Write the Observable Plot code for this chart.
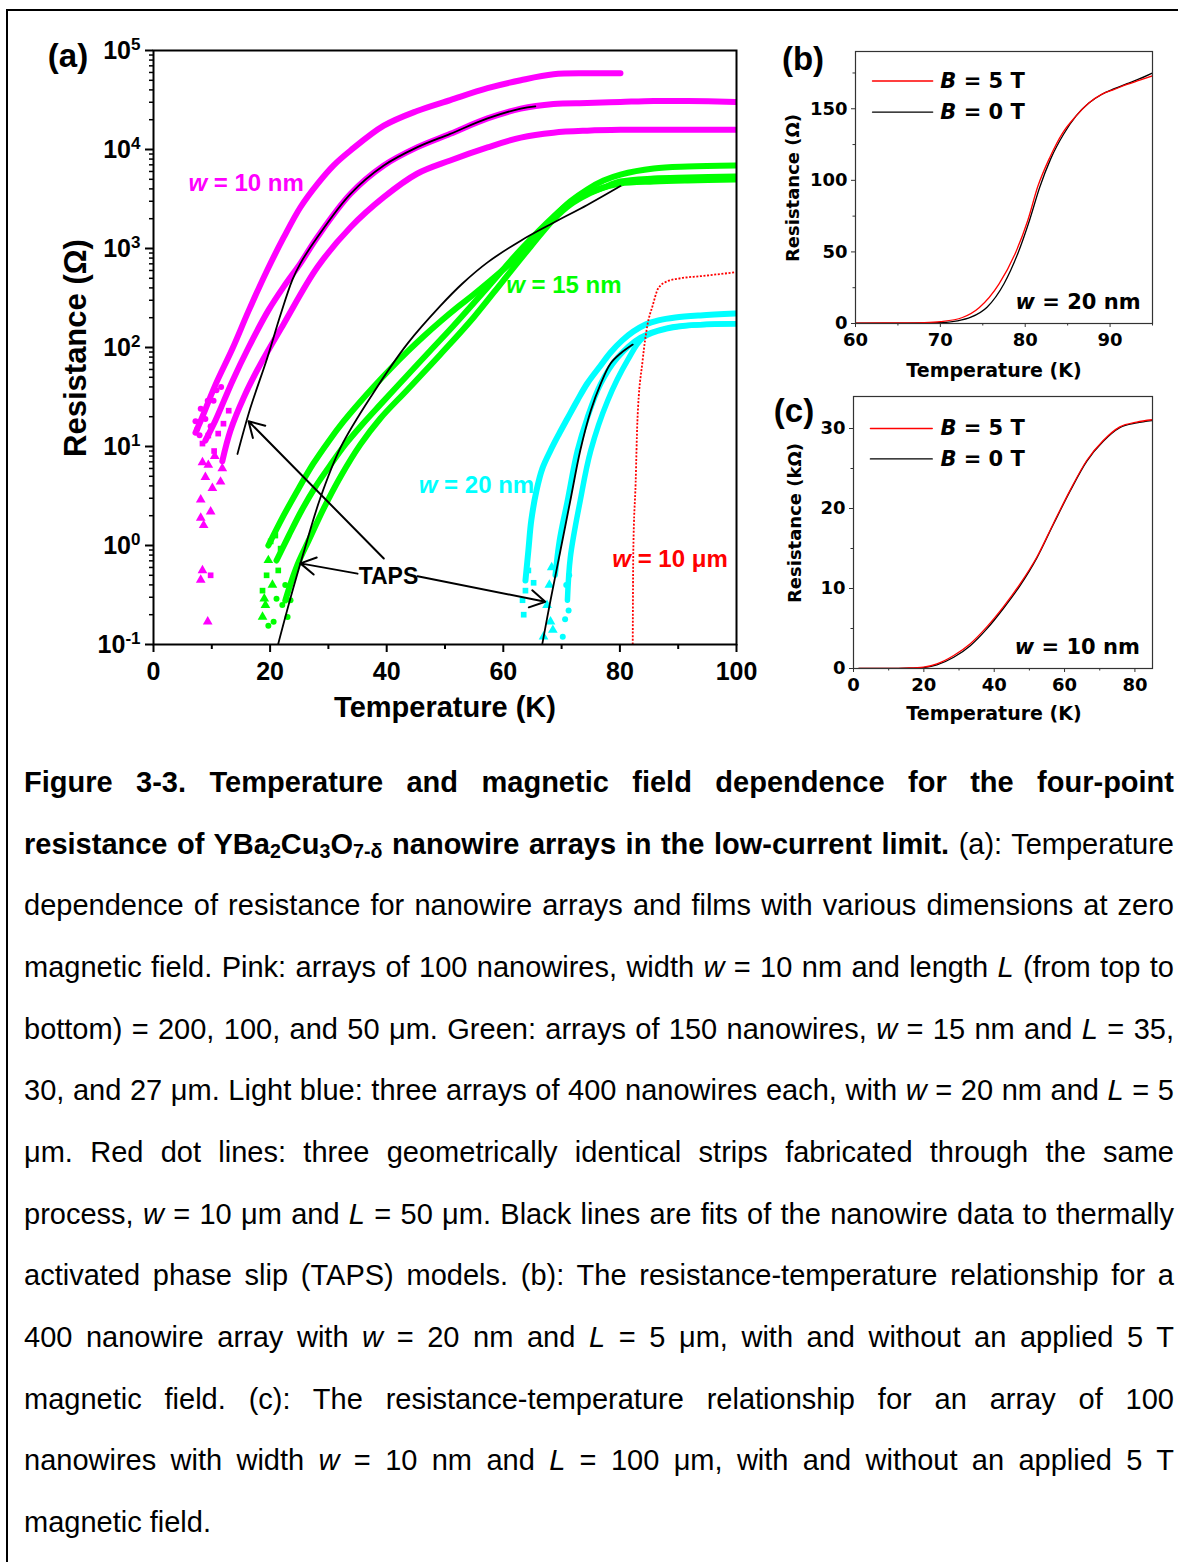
<!DOCTYPE html>
<html><head><meta charset="utf-8">
<script src="https://cdn.jsdelivr.net/npm/d3@7"></script>
<script src="https://cdn.jsdelivr.net/npm/@observablehq/plot@0.6"></script>
<style>
html,body{margin:0;padding:0;background:#fff;width:1178px;height:1562px;overflow:hidden;}
#page{position:relative;width:1178px;height:1562px;overflow:hidden;}
#border{position:absolute;left:6px;top:9px;width:1300px;height:1700px;border:2px solid #000;box-sizing:border-box;}
.panel{position:absolute;}
.lbl{position:absolute;white-space:nowrap;line-height:1;transform:translate(-50%,-50%);color:#000;font-weight:bold;}
.rot{transform:translate(-50%,-50%) rotate(-90deg);}
.fa{font-family:"Liberation Sans",Arial,sans-serif;}
.fb{font-family:"DejaVu Sans",Verdana,sans-serif;}
.cl{position:absolute;left:24px;height:61.67px;line-height:61.67px;white-space:nowrap;font-family:"Liberation Sans",Arial,sans-serif;font-size:29px;color:#000;}
.cl span{white-space:nowrap;}
.cl sub{font-size:0.68em;vertical-align:-0.22em;line-height:0;}
</style></head>
<body><div id="page">
<div id="border"></div>
<div id="pa" class="panel" style="left:0;top:0"></div>
<div id="pb" class="panel" style="left:770px;top:20px"></div>
<div id="pc" class="panel" style="left:770px;top:380px"></div>
<div class="lbl fa" style="left:68px;top:55px;font-size:33px">(a)</div>
<div class="lbl fa" style="left:803px;top:58px;font-size:33px">(b)</div>
<div class="lbl fa" style="left:794px;top:410px;font-size:33px">(c)</div>
<div class="lbl fa" style="left:445px;top:707px;font-size:29px">Temperature (K)</div>
<div class="lbl fa rot" style="left:75px;top:348px;font-size:31px">Resistance (Ω)</div>
<div class="lbl fb" style="left:994px;top:370px;font-size:19px">Temperature (K)</div>
<div class="lbl fb rot" style="left:793px;top:188px;font-size:18px">Resistance (Ω)</div>
<div class="lbl fb" style="left:994px;top:713px;font-size:19px">Temperature (K)</div>
<div class="lbl fb rot" style="left:795px;top:523px;font-size:18px">Resistance (kΩ)</div>
<div id="caption"></div>
</div>
<script>
// ---------- Panel (a) data: [Temperature (K), Resistance (Ω)] ----------
const pink200 = [[7.2,13.8],[8.1,18.2],[10.6,41.7],[13.55,97.7],[16.35,237],[19.5,603],[22.35,1300],[25.2,2610],[28.1,4470],[30.9,6920],[33.8,9770],[39.5,17400],[45.2,24500],[50.9,31600],[57.3,41700],[63.0,50100],[68.6,57500],[74.4,58900],[80.1,58900]];
const pink100 = [[8.9,11.5],[10.6,18.2],[13.55,46],[16.3,100],[19.7,237],[22.6,433],[25.2,708],[28.1,1300],[33.8,3570],[39.5,6890],[45.2,10500],[50.9,14400],[57.3,20600],[63.0,25900],[68.6,28800],[74.4,29500],[80.1,30200],[85.8,30900],[91.6,30900],[99.8,30200]];
const pink50 = [[11.8,7.1],[13.2,14.5],[15.5,31.5],[18.35,68],[22.35,174],[28.1,646],[33.8,1640],[39.5,3300],[45.2,5690],[50.9,7750],[57.3,10500],[63.0,13200],[68.6,14800],[74.4,15500],[80.1,15800],[99.8,15800]];
const pinkTri = [[8.4,6.9],[8.1,2.9],[8.1,1.9],[9.8,2.2],[8.4,0.56],[8.1,0.45],[9.3,0.17],[8.6,1.6],[10.1,3.8],[11.5,4.4],[8.9,4.9],[9.4,6.5],[10.5,8],[11.8,6]];
const pinkSq = [[9.8,0.5],[8.4,10.7],[9.4,12.9],[11.1,13.5],[12.9,23],[10.4,9],[12.0,17]];
const pinkCirc = [[7.2,18],[7.5,15],[8.1,24],[8.9,19],[9.8,16],[10.3,29],[10.8,37],[9.3,29],[7.9,13],[11.6,40]];
const fitPink = [[14.4,8.4],[16.6,24.3],[19.5,78],[21.8,215],[23.8,479],[25.2,708],[28.1,1300],[33.8,3570],[39.5,6890],[45.2,10500],[50.9,14400],[57.3,20600],[63.0,25900],[65.5,27200]];

const green35 = [[19.7,1.0],[22.3,2.0],[24.9,3.77],[27.4,6.7],[30.0,11.2],[32.6,17.9],[35.2,27.2],[37.8,40.4],[40.7,61.4],[43.6,91.2],[46.3,129],[49.2,183],[52.1,254],[54.9,343],[57.8,475],[60.4,643],[63.0,889],[65.9,1350],[68.6,2060],[71.5,2990],[74.4,3950],[77.2,4860],[80.1,5580],[85.8,6430],[91.6,6730],[99.8,6880]];
const green30 = [[21.1,0.705],[23.2,1.26],[25.4,2.26],[27.8,3.94],[30.4,6.58],[32.9,10.5],[35.8,16.7],[38.9,26.5],[43.2,49.8],[47.5,93.3],[51.5,167],[57.3,404],[63.0,977],[68.6,2100],[71.5,2920],[74.4,3600],[77.2,4130],[80.1,4540],[85.8,4750],[91.6,4870],[99.8,4980]];
const green27 = [[22.6,0.278],[23.7,0.443],[25.0,0.705],[26.6,1.12],[29.2,2.37],[32.1,4.98],[35.5,10.5],[38.9,19.2],[43.6,37.7],[49.2,85],[54.9,201],[60.0,475],[64.7,1047],[68.6,1960],[71.5,2780],[74.4,3510],[77.2,4130],[80.1,4750],[85.8,5090],[91.6,5210],[99.8,5330]];
const greenTri = [[18.7,0.19],[19.2,0.25],[20.4,0.4],[19.0,0.29],[19.7,0.71]];
const greenSq = [[20.1,1.1],[20.9,1.26],[21.8,0.93],[19.4,0.5],[21.4,0.56],[18.7,0.35]];
const greenCirc = [[19.7,0.155],[20.6,0.17],[23.0,0.19],[22.1,0.25],[22.6,0.4],[23.5,0.28],[21.1,0.29]];
const fitGreen = [[21.4,0.102],[23.5,0.295],[25.7,0.83],[28.6,3.0],[32.1,9.8],[37.7,34.7],[43.6,110],[49.2,263],[53.0,443],[57.3,724],[63.0,1200],[68.6,1820],[74.4,2750],[80.1,4270]];

const cyanA = [[63.8,0.443],[64.3,0.89],[64.8,1.79],[65.7,3.6],[66.7,6.0],[68.1,9.12],[69.5,13.2],[71.0,19.2],[72.7,29.2],[74.4,43.3],[76.7,65.8],[78.4,89.1],[80.4,118],[82.3,145],[84.4,171],[86.6,188],[89.5,201],[93.8,211],[99.8,220]];
const cyanB = [[68.9,0.5],[69.6,1.1],[71.0,2.85],[72.7,9.1],[74.4,19.5],[76.7,43],[79.6,79],[83.5,126],[88.2,158],[93.8,170],[99.8,174]];
const cyanC = [[71.0,0.28],[71.5,0.76],[73.2,2.85],[75.0,9.1],[77.9,29],[81.3,74],[84.0,126],[88.2,155],[93.8,170],[99.8,174]];
const cyanSq = [[63.3,0.28],[63.5,0.2],[64.3,0.56],[63.8,0.35],[65.2,0.42]];
const cyanTri = [[66.9,0.12],[68.1,0.17],[67.5,0.25],[68.5,0.14],[67.9,0.4],[68.3,0.6]];
const cyanCirc = [[70.2,0.12],[70.6,0.18],[71.2,0.22],[70.8,0.4],[71.3,0.5]];
const fitCyan = [[66.7,0.102],[68.1,0.28],[69.8,0.89],[71.5,2.85],[73.2,9.1],[75.0,23],[76.7,43],[78.4,69],[80.1,87],[82.2,107]];

const red10um = [[82.2,0.10],[82.3,0.89],[82.7,4.3],[83.0,18],[83.9,74],[84.7,166],[85.6,263],[86.6,398],[88.2,468],[90.4,501],[93.8,525],[99.8,575]];

const xTicksA = [0,20,40,60,80,100];
const xMinorA = [10,30,50,70,90];
const yTicksA = [0.1,1,10,100,1000,10000,100000];
const labelsA = [["w = 10 nm",6.0,4570,"#ff00ff"],["w = 15 nm",60.5,427,"#00ff00"],["w = 20 nm",45.5,4.1,"#00ffff"],["w = 10 μm",78.7,0.72,"#ff0000"]];
const tapsLabel = [["TAPS",40.3,0.49]];
const tapsArrows = [[39.5,0.74,16.3,18],[35.0,0.52,25.2,0.66],[45.3,0.49,67.2,0.27]];

// ---------- Panel (b) data: [T (K), R (Ω)] ----------
const b0T = [[60,0.3],[66,0.3],[70,0.6],[72,1.8],[73.6,4.4],[75.5,11.4],[77.5,27.8],[79.2,50],[80.5,72],[81.7,95],[83,115],[84.5,132],[86,145],[87.5,154],[89,160],[90.5,164],[92,167.5],[93.5,171],[95,175]];
const b5T = [[60,0.3],[66,0.4],[68,0.6],[70,1.3],[72.6,4.2],[74.6,11.2],[76.9,27.5],[78.9,50],[80.3,72],[81.5,96],[82.9,116],[84.4,133],[86,145],[87.5,154],[89,160],[90.5,163.5],[92,167],[93.5,170],[95,173]];
const xTicksB = [60,70,80,90], xMinorB = [65,75,85,95];
const yTicksB = [0,50,100,150], yMinorB = [25,75,125,175];
const legendB = [["B = 5 T","#ff0000",169.4],["B = 0 T","#000000",147.7]];
const legendBx = [62,69.1,70];
const noteB = [["w = 20 nm",93.6,14.7]];

// ---------- Panel (c) data: [T (K), R (kΩ)] ----------
const c0T = [[1.5,0],[10,0.01],[15,0.04],[19.9,0.12],[23.7,0.45],[28.5,1.4],[33.2,2.85],[37.9,4.95],[42.6,7.5],[47.4,10.4],[52.1,13.8],[56.8,18.0],[61.6,22.2],[66.3,25.9],[71.0,28.4],[75.7,30.1],[80.5,30.7],[85,31.0]];
const c5T = [[1.5,0],[10,0.01],[15,0.05],[19.9,0.17],[23.7,0.58],[28.5,1.63],[33.2,3.1],[37.9,5.2],[42.6,7.7],[47.4,10.6],[52.1,13.9],[56.8,18.1],[61.6,22.3],[66.3,26.0],[71.0,28.5],[75.7,30.2],[80.5,30.8],[85,31.1]];
const xTicksC = [0,20,40,60,80], xMinorC = [10,30,50,70];
const yTicksC = [0,10,20,30], yMinorC = [5,15,25];
const legendC = [["B = 5 T","#ff0000",30.0],["B = 0 T","#000000",26.2]];
const legendCx = [4.8,22.4,24.7];
const noteC = [["w = 10 nm",81.4,2.63]];

const X = d => d[0], Y = d => d[1];
const yMinorA = [];
for (const t of yTicksA.slice(0,-1)) for (let m = 2; m <= 9; m++) yMinorA.push(m * t);

function curve(data, color, w, extra = {}) {
  return Plot.line(data, {x: X, y: Y, stroke: color, strokeWidth: w, curve: "catmull-rom", clip: true, ...extra});
}
function dots(data, color, symbol, r) {
  return Plot.dot(data, {x: X, y: Y, fill: color, symbol, r, clip: true});
}

const fontA = '"Liberation Sans", Arial, sans-serif';
const fontB = '"DejaVu Sans", Verdana, sans-serif';

const pa = Plot.plot({
  width: 770, height: 730, marginLeft: 153, marginRight: 34, marginTop: 50, marginBottom: 86,
  x: {domain: [0, 100]},
  y: {type: "log", domain: [0.1, 1e5]},
  style: {fontFamily: fontA, fontWeight: "bold", fontSize: "25px", color: "#000", background: "transparent", overflow: "visible"},
  marks: [
    curve(pink200, "#ff00ff", 6), curve(pink100, "#ff00ff", 6), curve(pink50, "#ff00ff", 6),
    dots(pinkTri, "#ff00ff", "triangle", 3.6), dots(pinkSq, "#ff00ff", "square", 3.2), dots(pinkCirc, "#ff00ff", "circle", 3),
    curve(green35, "#00ff00", 6), curve(green30, "#00ff00", 6), curve(green27, "#00ff00", 6),
    dots(greenTri, "#00ff00", "triangle", 3.6), dots(greenSq, "#00ff00", "square", 3.2), dots(greenCirc, "#00ff00", "circle", 3),
    curve(cyanA, "#00ffff", 6), curve(cyanB, "#00ffff", 5.5), curve(cyanC, "#00ffff", 5.5),
    dots(cyanSq, "#00ffff", "square", 3.2), dots(cyanTri, "#00ffff", "triangle", 3.6), dots(cyanCirc, "#00ffff", "circle", 3),
    curve(red10um, "#ff0000", 1.8, {strokeDasharray: "2,1.6", strokeLinecap: "butt", curve: "monotone-x"}),
    curve(fitPink, "#000", 1.8), curve(fitGreen, "#000", 1.8), curve(fitCyan, "#000", 1.8),
    Plot.arrow(tapsArrows, {x1: d => d[0], y1: d => d[1], x2: d => d[2], y2: d => d[3], stroke: "#000", strokeWidth: 2, headLength: 13}),
    Plot.text(tapsLabel, {x: d => d[1], y: d => d[2], text: d => d[0], fontSize: 23, fill: "#000"}),
    ...labelsA.map(l => Plot.text([l], {x: d => d[1], y: d => d[2], text: d => d[0], fill: l[3], fontSize: 24, textAnchor: "start"})),
    Plot.axisX({ticks: xTicksA, tickSize: 8, tickPadding: 10, tickFormat: d => String(d), label: null, strokeWidth: 2}),
    Plot.axisX({ticks: xMinorA, tickSize: 5, tickFormat: () => "", label: null, strokeWidth: 2}),
    Plot.axisY({ticks: yTicksA, tickSize: 8, tickPadding: 5, tickFormat: d => "10^" + Math.round(Math.log10(d)), label: null, strokeWidth: 2}),
    Plot.axisY({ticks: yMinorA, tickSize: 4, tickFormat: () => "", label: null, strokeWidth: 1.5}),
    Plot.frame({stroke: "#000", strokeWidth: 2})
  ]
});
document.getElementById("pa").appendChild(pa);

function sidePanel(opts) {
  const {w, h, ml, mr, mt, mb, xd, yd, xt, xm, yt, ym, series, legend, legX, note} = opts;
  return Plot.plot({
    width: w, height: h, marginLeft: ml, marginRight: mr, marginTop: mt, marginBottom: mb,
    x: {domain: xd}, y: {domain: yd},
    style: {fontFamily: fontB, fontWeight: "bold", fontSize: "18px", color: "#000", background: "transparent", overflow: "visible"},
    marks: [
      ...series.map(([d, c]) => Plot.line(d, {x: X, y: Y, stroke: c, strokeWidth: 1.3, curve: "monotone-x", clip: true})),
      ...legend.map(l => Plot.line([[legX[0], l[2]], [legX[1], l[2]]], {x: X, y: Y, stroke: l[1], strokeWidth: 1.3})),
      Plot.text(legend, {x: () => legX[2], y: d => d[2], text: d => d[0], textAnchor: "start", fontSize: 21, fill: "#000"}),
      Plot.text(note, {x: d => d[1], y: d => d[2], text: d => d[0], textAnchor: "end", fontSize: 21, fill: "#000"}),
      Plot.axisX({ticks: xt, tickSize: 4, tickPadding: 6, tickFormat: d => String(d), label: null, stroke: "#333"}),
      Plot.axisX({ticks: xm, tickSize: 2.5, tickFormat: () => "", label: null, stroke: "#333"}),
      Plot.axisY({ticks: yt, tickSize: 4, tickPadding: 4, tickFormat: d => String(d), label: null, stroke: "#333"}),
      Plot.axisY({ticks: ym, tickSize: 2.5, tickFormat: () => "", label: null, stroke: "#333"}),
      Plot.frame({stroke: "#333", strokeWidth: 1.2})
    ]
  });
}

const pb = sidePanel({w: 408, h: 370, ml: 85, mr: 26, mt: 31, mb: 67, xd: [60, 95], yd: [0, 190],
  xt: xTicksB, xm: xMinorB, yt: yTicksB, ym: yMinorB, series: [[b0T, "#000"], [b5T, "#ff0000"]],
  legend: legendB, legX: legendBx, note: noteB});
document.getElementById("pb").appendChild(pb);

const pc = sidePanel({w: 408, h: 350, ml: 83, mr: 26, mt: 16, mb: 62, xd: [0, 85], yd: [0, 34],
  xt: xTicksC, xm: xMinorC, yt: yTicksC, ym: yMinorC, series: [[c0T, "#000"], [c5T, "#ff0000"]],
  legend: legendC, legX: legendCx, note: noteC});
document.getElementById("pc").appendChild(pc);

// post-process: superscript exponents and italic variable letters
for (const svg of [pa, pb, pc]) {
  d3.select(svg).selectAll("text").each(function () {
    const t = this.textContent;
    const s = d3.select(this);
    let m = t.match(/^10\^(-?\d+)$/);
    if (m) {
      s.text("");
      s.append("tspan").text("10");
      s.append("tspan").attr("dy", "-0.5em").attr("font-size", "17px").text(m[1]);
      return;
    }
    m = t.match(/^([wB])( = .*)$/);
    if (m) {
      s.text("");
      s.append("tspan").attr("font-style", "italic").text(m[1]);
      s.append("tspan").text(m[2]);
    }
  });
}

// ---------- caption ----------
const captionLines = [
  '<b>Figure 3-3. Temperature and magnetic field dependence for the four-point</b>',
  '<b>resistance of YBa<sub>2</sub>Cu<sub>3</sub>O<sub>7-δ</sub> nanowire arrays in the low-current limit.</b> (a): Temperature',
  'dependence of resistance for nanowire arrays and films with various dimensions at zero',
  'magnetic field. Pink: arrays of 100 nanowires, width <i>w</i> = 10 nm and length <i>L</i> (from top to',
  'bottom) = 200, 100, and 50 μm. Green: arrays of 150 nanowires, <i>w</i> = 15 nm and <i>L</i> = 35,',
  '30, and 27 μm. Light blue: three arrays of 400 nanowires each, with <i>w</i> = 20 nm and <i>L</i> = 5',
  'μm. Red dot lines: three geometrically identical strips fabricated through the same',
  'process, <i>w</i> = 10 μm and <i>L</i> = 50 μm. Black lines are fits of the nanowire data to thermally',
  'activated phase slip (TAPS) models. (b): The resistance-temperature relationship for a',
  '400 nanowire array with <i>w</i> = 20 nm and <i>L</i> = 5 μm, with and without an applied 5 T',
  'magnetic field. (c): The resistance-temperature relationship for an array of 100',
  'nanowires with width <i>w</i> = 10 nm and <i>L</i> = 100 μm, with and without an applied 5 T',
  'magnetic field.'
];
const cap = document.getElementById("caption");
captionLines.forEach((html, i) => {
  const d = document.createElement("div");
  d.className = "cl";
  d.style.top = (752 + i * 61.67) + "px";
  const s = document.createElement("span");
  s.innerHTML = html;
  d.appendChild(s);
  cap.appendChild(d);
  if (i < captionLines.length - 1) {
    const w = s.getBoundingClientRect().width;
    const n = (s.textContent.match(/ /g) || []).length;
    if (n > 0) s.style.wordSpacing = ((1150 - w) / n) + "px";
  }
});
</script>
</body></html>
